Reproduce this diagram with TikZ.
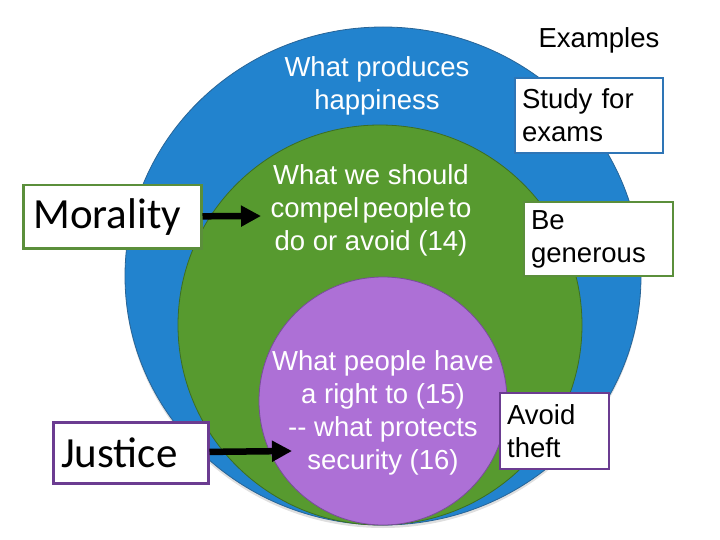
\documentclass[tikz,border=0pt]{standalone}
\usepackage{fontspec}
\setmainfont{Liberation Sans}
\newfontfamily\calibri{Carlito}
\usetikzlibrary{arrows.meta,shadows}

\definecolor{ringblue}{RGB}{34,131,206}
\definecolor{ringblueline}{RGB}{40,100,150}
\definecolor{ringgreen}{RGB}{87,154,47}
\definecolor{ringgreenline}{RGB}{60,110,34}
\definecolor{ringpurple}{RGB}{173,112,214}
\definecolor{ringpurpleline}{RGB}{120,76,154}
\definecolor{boxblue}{RGB}{46,117,182}
\definecolor{boxgreen}{RGB}{91,143,59}
\definecolor{boxpurple}{RGB}{107,60,145}

\begin{document}
\begin{tikzpicture}[x=1pt, y=-1pt,
  ring/.style={line width=0.8pt},
  inside/.style={text=white, align=center, font=\fontsize{27.5}{33}\selectfont},
  example/.style={draw, line width=2.2pt, fill=white, anchor=north west,
    align=left, inner xsep=4pt, font=\fontsize{27.5}{33}\selectfont},
  theory/.style={draw, line width=2.5pt, fill=white, anchor=north west,
    align=left, inner xsep=4pt, font=\calibri\fontsize{43}{50}\selectfont},
  push/.style={line width=6.5pt, -{Triangle[length=20pt,width=20pt]}}]

  \useasboundingbox (0,0) rectangle (720,540);

  % nested circles
  \filldraw[ring, fill=ringblue, draw=ringblueline,
    drop shadow={shadow xshift=0pt, shadow yshift=-3pt, opacity=0.25}]
    (383,276) ellipse [x radius=258pt, y radius=249pt];
  \filldraw[ring, fill=ringgreen, draw=ringgreenline]
    (380,325) ellipse [x radius=202pt, y radius=200pt];
  \filldraw[ring, fill=ringpurple, draw=ringpurpleline]
    (383,401) circle [radius=124pt];

  \node[inside] (happytext) at (377,86) {What produces\\happiness};
  \node[inside] (compeltext) at (371,210)
    {What we should\\compel\hspace{.12em}people\hspace{.12em}to\\do or avoid (14)};
  \node[inside] (righttext) at (383,413)
    {What people have\\a right to (15)\\-{}- what protects\\security (16)};

  % examples column
  \node[font=\fontsize{27.5}{33}\selectfont] (examples) at (599,40) {Examples};
  \node[example, draw=boxblue, minimum width=148pt, minimum height=75pt,
    text width=134pt] (study) at (514,77) {Study for\\exams};
  \node[example, draw=boxgreen, minimum width=149pt, minimum height=74pt,
    text width=135pt] (generous) at (523,201) {Be\\generous};
  \node[example, draw=boxpurple, minimum width=109pt, minimum height=76pt,
    text width=95pt] (theft) at (499,392) {Avoid\\theft};

  % theories
  \node[theory, draw=boxgreen, minimum width=178pt, minimum height=63pt,
    text width=158pt] (morality) at (22,184) {Morality};
  \node[theory, draw=boxpurple, minimum width=155pt, minimum height=61pt,
    text width=139pt] (justice) at (52,421) {Justice};

  \coordinate (moraltip) at (261,216);
  \coordinate (justtip) at (292,451);
  \draw[push] (morality) -- (moraltip);
  \draw[push] (justice) -- (justtip);
\end{tikzpicture}
\end{document}
